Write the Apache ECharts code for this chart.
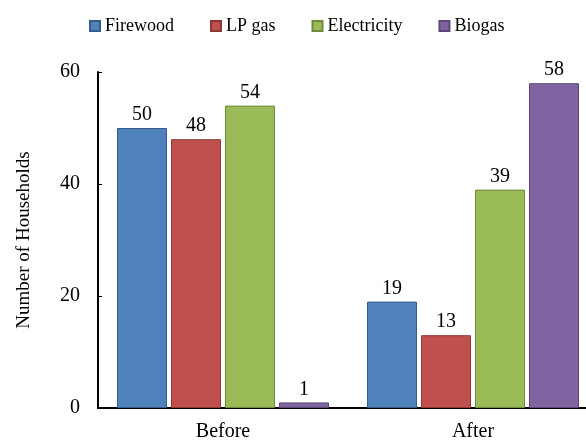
<!DOCTYPE html>
<html><head><meta charset="utf-8">
<script src="https://cdn.jsdelivr.net/npm/echarts@6/dist/echarts.min.js"></script>
<style>html,body{margin:0;padding:0;background:#fff}#c{width:586px;height:443px}</style>
</head><body><div id="c"></div>
<script>
const categories = ['Before', 'After'];
const seriesNames = ['Firewood', 'LP gas', 'Electricity', 'Biogas'];
const firewood = [50, 19];
const lpGas = [48, 13];
const electricity = [54, 39];
const biogas = [1, 58];
const yTicks = [0, 20, 40, 60];

const fills = ['#4F81BD', '#C0504D', '#9BBB59', '#8064A2'];
const borders = ['#385D8A', '#8C3836', '#71893F', '#5C4776'];
const values = [firewood, lpGas, electricity, biogas];
const font = '"Liberation Serif", "Times New Roman", serif';

const chart = echarts.init(document.getElementById('c'), null, {renderer: 'canvas'});
chart.setOption({
  animation: false,
  textStyle: {fontFamily: font},
  legend: {
    top: 17, left: 89, padding: 0,
    itemWidth: 10, itemHeight: 10, itemGap: 36,
    icon: 'rect',
    textStyle: {fontFamily: font, fontSize: 18, color: '#000'},
    data: seriesNames
  },
  grid: {left: 98, top: 72, height: 336, width: 500, outerBoundsMode: 'none', containLabel: false},
  xAxis: {
    type: 'category', data: categories,
    axisLine: {lineStyle: {color: '#000', width: 2}},
    axisTick: {show: false},
    axisLabel: {fontFamily: font, fontSize: 20, color: '#000', margin: 14}
  },
  yAxis: {
    type: 'value', min: yTicks[0], max: yTicks[yTicks.length - 1], interval: 20,
    name: 'Number of Households', nameLocation: 'middle', nameGap: 64,
    nameTextStyle: {fontFamily: font, fontSize: 19, color: '#000'},
    axisLine: {show: true, lineStyle: {color: '#000', width: 2}},
    axisTick: {show: true, inside: true, length: 4, lineStyle: {color: '#000'}},
    splitLine: {show: false},
    axisLabel: {fontFamily: font, fontSize: 20, color: '#000', margin: 18}
  },
  series: seriesNames.map((n, i) => ({
    name: n, type: 'bar', data: values[i],
    barWidth: 50, barGap: '8%',
    itemStyle: {color: fills[i], borderColor: borders[i], borderWidth: 1},
    label: {show: true, position: 'top', distance: 3, fontFamily: font, fontSize: 20, color: '#000'}
  }))
});
</script></body></html>
